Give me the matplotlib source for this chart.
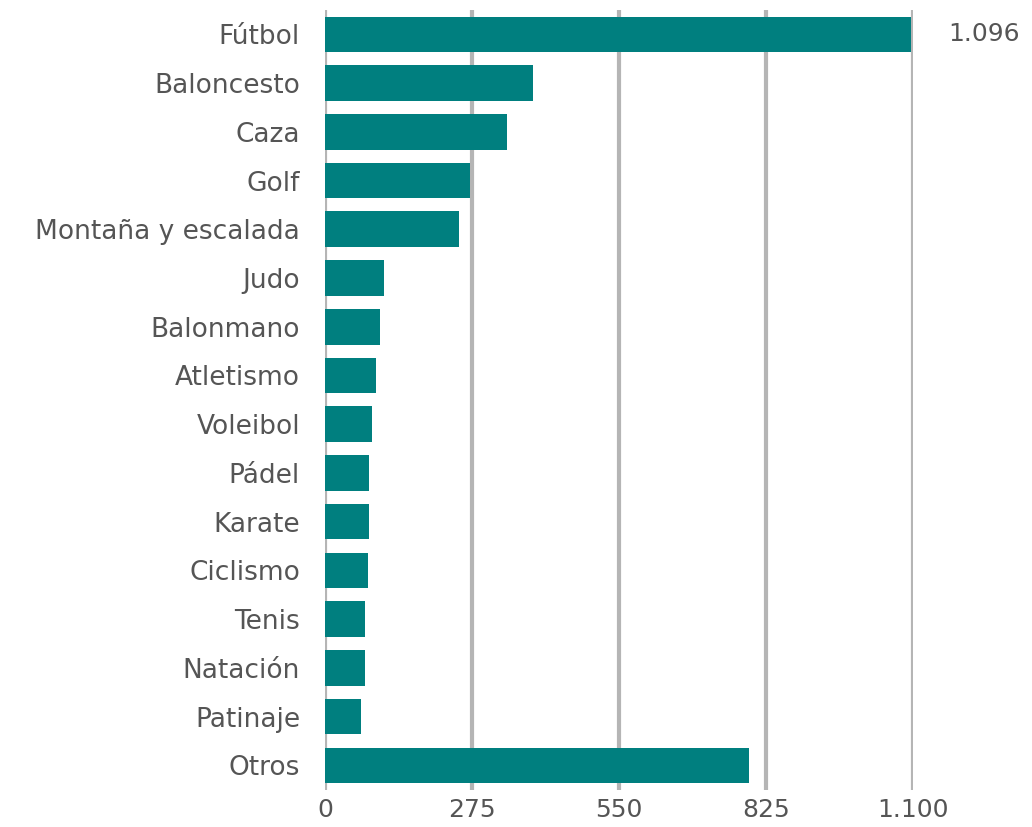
import matplotlib.pyplot as plt

# Data
deportes = ["Fútbol", "Baloncesto", "Caza", "Golf", "Montaña y escalada", "Judo",
            "Balonmano", "Atletismo", "Voleibol", "Pádel", "Karate", "Ciclismo",
            "Tenis", "Natación", "Patinaje", "Otros"]
valores = [1096, 389, 340, 271, 251, 110, 103, 95, 87, 82, 82, 81, 75, 75, 67, 793]
xticks = [0, 275, 550, 825, 1100]
xtick_labels = ["0", "275", "550", "825", "1.100"]

TEAL = "#007f7f"
GRID = "#b5b5b5"
TEXT = "#555555"

fig = plt.figure(figsize=(10.32, 8.27), dpi=100)
ax = fig.add_axes([0.315, 0.045, 0.5695, 0.943])

y = list(range(len(deportes)))
ax.barh(y, valores, height=0.73, color=TEAL, zorder=3)

for xv in xticks:
    ax.axvline(xv, color=GRID, lw=3, zorder=1)

ax.set_xlim(0, 1100)
ax.set_ylim(len(deportes) - 0.5, -0.5)
ax.set_yticks(y)
ax.set_yticklabels(deportes, fontsize=19, color=TEXT)
ax.set_xticks(xticks)
ax.set_xticklabels(xtick_labels, fontsize=18, color=TEXT)
ax.tick_params(axis="y", length=0, pad=18)
ax.tick_params(axis="x", length=0, pad=6)
for s in ax.spines.values():
    s.set_visible(False)

# only the first bar carries a value label
ax.text(valores[0] + 70, 0, "1.096", va="center", ha="left",
        fontsize=18, color=TEXT, clip_on=False)

fig.savefig("out.png", dpi=100)
